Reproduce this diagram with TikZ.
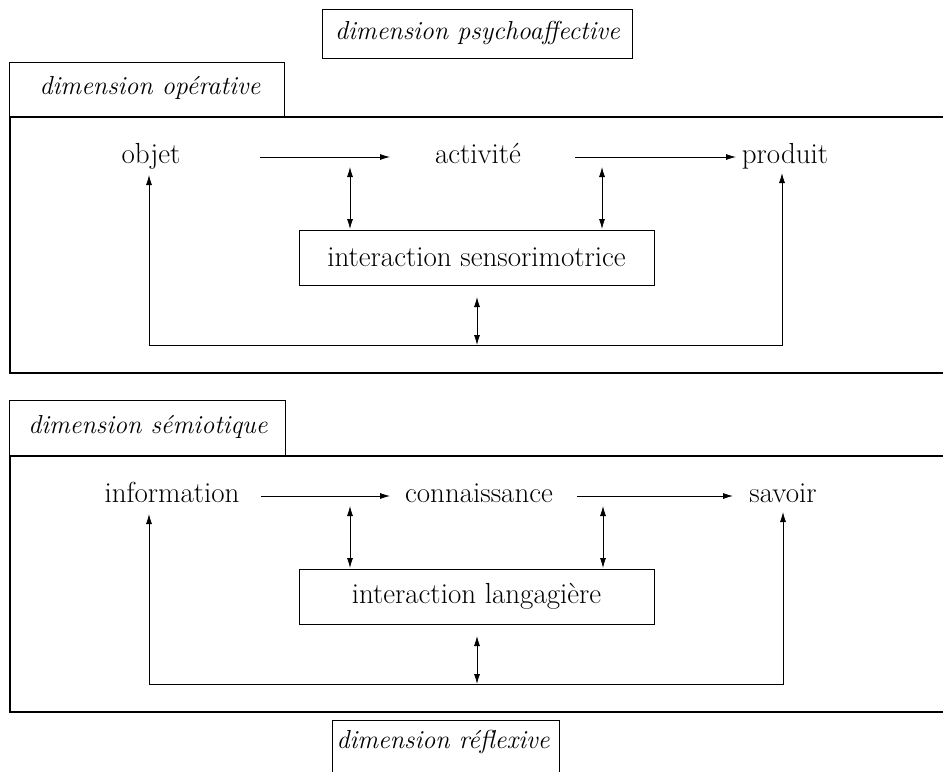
\documentclass[tikz,border=0pt]{standalone}
\usepackage{fontspec}
\usetikzlibrary{arrows.meta}
\tikzset{
  txt/.style={font=\fontsize{29}{33}\selectfont, inner sep=0pt, anchor=base},
  tab/.style={font=\fontsize{26}{30}\selectfont\itshape, inner sep=0pt},
  thinline/.style={line width=0.8pt},
  frame/.style={line width=1.8pt},
  arr/.style={line width=0.8pt, -{Latex[length=10pt,width=6pt]}},
  darr/.style={line width=0.8pt, {Latex[length=10pt,width=6pt]}-{Latex[length=10pt,width=6pt]}},
  ibox/.style={draw, line width=0.8pt, minimum width=355pt, minimum height=55pt, inner sep=0pt, font=\fontsize{29}{33}\selectfont}
}
\begin{document}
\begin{tikzpicture}[x=1pt,y=-1pt]
\useasboundingbox (0,0) rectangle (943,772);

% ---------- tabs ----------
\node[tab, minimum width=309pt, minimum height=48pt] (psy) at (477.5,34) {};
\draw[thinline] (psy.south west) rectangle (psy.north east);
\node[tab] (psyt) at (477.5,33) {dimension psychoaffective};

\node[tab, minimum width=274pt, minimum height=54pt] (op) at (147,90) {};
\draw[thinline] (op.south west) |- (op.north east) -- (op.south east);
\node[tab] (opt) at (150,88) {dimension opérative};

\node[tab, minimum width=275pt, minimum height=55pt] (sem) at (147.5,428.5) {};
\draw[thinline] (sem.south west) |- (sem.north east) -- (sem.south east);
\node[tab] (semt) at (148,427) {dimension sémiotique};

\node[tab, minimum width=226pt, minimum height=51pt] (ref) at (446,746.5) {};
\draw[thinline] (ref.south west) |- (ref.north east) -- (ref.south east);
\node[tab] (reft) at (443,742) {dimension réflexive};

% ---------- outer frames ----------
\draw[frame] (943,117) -- (10,117) -- (10,373) -- (943,373);
\draw[frame] (943,456) -- (10,456) -- (10,712) -- (943,712);

% ---------- upper block ----------
\node[txt] (objet) at (151,163) {objet};
\node[txt] (activite) at (478,163) {activité};
\node[txt] (produit) at (785,163) {produit};
\node[ibox] (ism) at (476.5,257.5) {interaction sensorimotrice};

\coordinate (u1) at (260,157);
\coordinate (u2) at (390,157);
\coordinate (u3) at (575,157);
\coordinate (u4) at (736,157);
\draw[arr] (u1) -- (u2);
\draw[arr] (u3) -- (u4);

\coordinate (ud1a) at (350,167);
\coordinate (ud1b) at (350,229);
\coordinate (ud2a) at (602,167);
\coordinate (ud2b) at (602,229);
\draw[darr] (ud1a) -- (ud1b);
\draw[darr] (ud2a) -- (ud2b);

\coordinate (uf1) at (149,175);
\coordinate (uf2) at (149,345);
\coordinate (uf3) at (782,345);
\coordinate (uf4) at (782,173);
\draw[darr] (uf1) -- (uf2) -- (uf3) -- (uf4);

\coordinate (ub1) at (477,297);
\coordinate (ub2) at (477,345);
\draw[darr] (ub1) -- (ub2);

% ---------- lower block ----------
\node[txt] (info) at (172,502) {information};
\node[txt] (conn) at (479,502) {connaissance};
\node[txt] (savoir) at (783,502) {savoir};
\node[ibox] (ilg) at (476.5,596.5) {interaction langagière};

\coordinate (l1) at (261,496);
\coordinate (l2) at (390,496);
\coordinate (l3) at (577,496);
\coordinate (l4) at (733,496);
\draw[arr] (l1) -- (l2);
\draw[arr] (l3) -- (l4);

\coordinate (ld1a) at (350,506);
\coordinate (ld1b) at (350,568);
\coordinate (ld2a) at (603,506);
\coordinate (ld2b) at (603,568);
\draw[darr] (ld1a) -- (ld1b);
\draw[darr] (ld2a) -- (ld2b);

\coordinate (lf1) at (149,514);
\coordinate (lf2) at (149,684);
\coordinate (lf3) at (783,684);
\coordinate (lf4) at (783,512);
\draw[darr] (lf1) -- (lf2) -- (lf3) -- (lf4);

\coordinate (lb1) at (477,636);
\coordinate (lb2) at (477,684);
\draw[darr] (lb1) -- (lb2);
\end{tikzpicture}
\end{document}
